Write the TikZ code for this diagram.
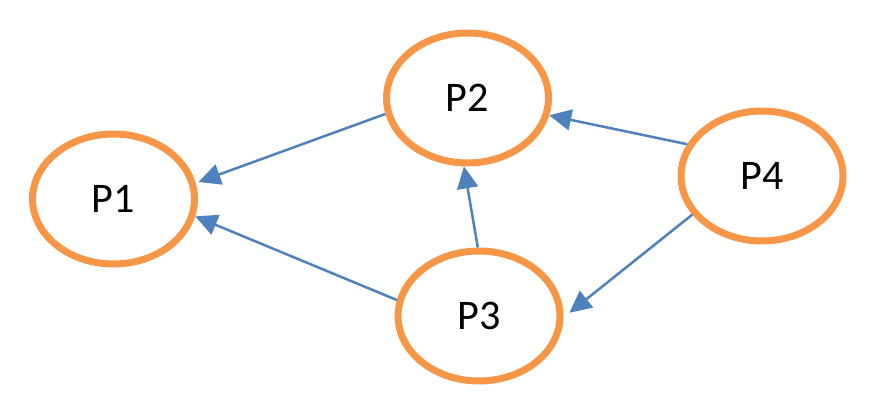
\documentclass[tikz,border=0pt]{standalone}
\usepackage{fontspec}
\setmainfont{Carlito}
\usetikzlibrary{shapes.geometric,arrows.meta}
\definecolor{procorange}{HTML}{F79646}
\definecolor{edgeblue}{HTML}{4F81BD}
\begin{document}
\begin{tikzpicture}[x=0.02cm, y=-0.02cm,
            proc/.style={ellipse, draw=procorange, line width=0.14cm, minimum width=3.24cm, minimum height=2.6cm, font=\fontsize{24}{29}\selectfont},
            edge/.style={draw=edgeblue, line width=0.05cm, -{Triangle[length=0.44cm, width=0.42cm]}}
        ]
        \useasboundingbox (0,0) rectangle (876,412);

        \node[proc] (P1) at (113.5,199) {P1};
        \node[proc] (P2) at (467.5,98) {P2};
        \node[proc] (P3) at (479,316) {P3};
        \node[proc] (P4) at (762,176) {P4};

        \draw[edge, shorten >=0.06cm] (P2.191) -- (P1.11);
        \draw[edge] (P3.169.6) -- (P1.-12);
        \draw[edge] (P3.91) -- (P2.-93);
        \draw[edge] (P4.157.2) -- (P2.-12.9);
        \draw[edge, shorten >=0.15cm] (P4.209.8) -- (P3.-1.9);
    \end{tikzpicture}
\end{document}
